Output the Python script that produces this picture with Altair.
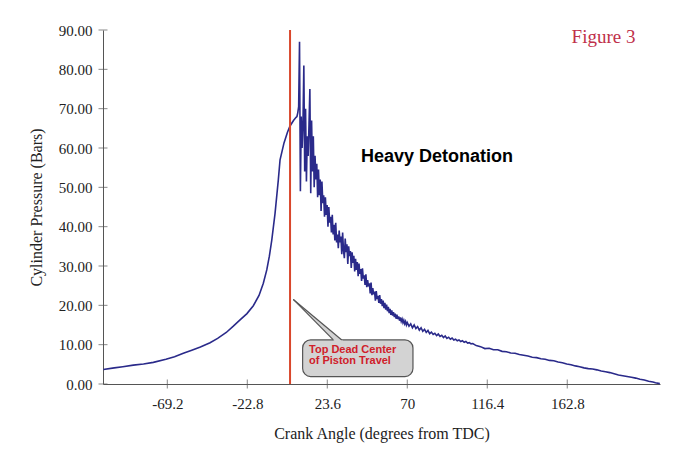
import altair as alt
import pandas as pd

# ---- data ----
pre_angle = [-106.3, -100, -95, -88.9, -83, -77.3, -70, -65, -59.9, -55, -50, -44.4, -40, -35,
             -30.9, -27, -23, -19.3, -16, -13.5, -11.5, -10, -8.6, -6.7, -4.8, -3.8, -1.5, 0.5,
             2.0, 4.0, 5.5]
pre_press = [3.7, 4.1, 4.4, 4.8, 5.1, 5.5, 6.3, 6.9, 7.8, 8.6, 9.4, 10.5, 11.6, 13.1,
             14.7, 16.3, 17.9, 19.9, 22.5, 25.6, 29.0, 32.5, 36.6, 43.4, 51.9, 57.0, 61.3, 64.0,
             65.6, 67.0, 67.8]

knock_angle = [6.0, 6.5, 7.0, 7.5, 8.0, 8.5, 9.0, 9.5, 10.0, 10.5, 11.0, 11.5, 12.0, 12.5,
               13.0, 13.5, 14.0, 14.5, 15.0, 15.5, 16.0, 16.5, 17.0, 17.5, 18.0, 18.5, 19.0,
               19.5, 20.0, 20.5, 21.0, 21.5, 22.0, 22.5, 23.0, 23.5, 24.0, 24.5, 25.0, 25.5,
               26.0, 26.5, 27.0, 27.5, 28.0, 28.5, 29.0, 29.5,
               30.0, 30.5, 31.0, 31.5, 32.0, 32.5, 33.0, 33.5, 34.0, 34.5, 35.0, 35.5, 36.0,
               36.5, 37.0, 37.5, 38.0, 38.5, 39.0, 39.5, 40.0, 40.5, 41.0, 41.5, 42.0, 42.5,
               43.0, 43.5, 44.0, 44.5, 45.0, 45.5, 46.0, 46.5, 47.0, 47.5, 48.0, 48.5, 49.0,
               49.5, 50.0, 50.5, 51.0, 51.5, 52.0, 52.5, 53.0, 53.5, 54.0, 54.5, 55.0, 55.5,
               56.0, 56.5, 57.0, 57.5, 58.0, 58.5, 59.0, 59.5, 60.0, 60.5, 61.0, 61.5, 62.0,
               62.5, 63.0, 63.5, 64.0, 64.5, 65.0, 65.5, 66.0, 66.5, 67.0, 67.5, 68.0, 68.5,
               69.0, 69.5, 70.0,
               71, 72, 73, 74, 75, 76, 77, 78, 79, 80, 81, 82, 83, 84, 85, 86, 87, 88, 89, 90,
               91, 92, 93, 94, 95, 96, 97, 98, 99, 100, 101, 102, 103, 104, 105, 106, 107, 108,
               109, 110]
knock_press = [68.0, 69.0, 70.5, 87.0, 49.0, 68.0, 60.0, 66.0, 81.0, 54.0, 70.0, 51.5, 63.0, 58.0,
               66.0, 75.0, 48.5, 67.0, 54.0, 63.0, 50.0, 58.0, 52.0, 56.0, 47.5, 54.5, 48.0,
               52.0, 44.0, 51.5, 46.0, 48.0, 42.5, 47.5, 43.0, 45.5, 40.0, 45.0, 41.0, 42.5,
               38.5, 43.0, 38.0, 40.5, 36.5, 41.0, 36.0, 38.0,
               34.5, 39.0, 36.0, 37.5, 33.0, 38.5, 34.0, 32.0, 37.0, 33.5, 35.5, 30.5, 35.0,
               32.5, 33.8, 29.5, 33.5, 30.8, 32.6, 28.6, 31.8, 29.0, 31.0, 27.4, 30.6, 28.0,
               29.2, 26.2, 29.4, 26.8, 27.6, 25.2, 27.9, 24.6, 26.4, 24.8, 25.6, 23.0, 25.8,
               22.6, 24.4, 22.8, 23.5, 21.2, 23.6, 21.6, 22.4, 20.6, 22.6, 20.4, 21.6, 19.8,
               21.2, 19.3, 20.6, 18.9, 20.2, 18.5, 19.6, 18.0, 19.1, 17.6, 18.7, 17.4, 18.3,
               17.0, 17.9, 16.6, 17.6, 16.5, 17.2, 16.1, 16.9, 15.9, 16.5, 15.6, 16.2, 15.3,
               15.9, 15.0, 15.6,
               14.7, 15.3, 14.3, 15.0, 14.1, 14.6, 13.7, 14.3, 13.4, 13.9, 13.1, 13.6, 12.8,
               13.2, 12.6, 12.9, 12.3, 12.7, 12.1, 12.4, 11.8, 12.2, 11.6, 11.9, 11.4, 11.7,
               11.2, 11.4, 11.0, 11.2, 10.8, 11.0, 10.6, 10.8, 10.4, 10.5, 10.2, 10.3, 10.0,
               9.8]

tail_angle = [112.5, 115, 117.5, 120, 122.5, 125, 127.5, 130, 132.5, 135, 137.5, 140, 142.5,
              145, 147.5, 150, 152.5, 155, 157.5, 160, 162.5, 165, 167.5, 170, 172.5, 175,
              177.5, 180, 182.5, 185, 187.5, 190, 192.5, 195, 197.5, 200, 202.5, 205, 207.5,
              210, 212.5, 214, 216.5]
tail_press = [9.5, 9.0, 9.1, 8.7, 8.7, 8.3, 8.2, 7.9, 7.8, 7.5, 7.3, 7.1, 6.8, 6.7, 6.4, 6.3,
              6.0, 5.9, 5.6, 5.4, 5.1, 4.9, 4.6, 4.4, 4.1, 3.9, 3.8, 3.6, 3.3, 3.1, 2.9, 2.6,
              2.3, 2.1, 1.9, 1.7, 1.5, 1.2, 1.0, 0.7, 0.5, 0.3, 0.1]

x_ticks = [-69.2, -22.8, 23.6, 70, 116.4, 162.8]
y_ticks = [0, 10, 20, 30, 40, 50, 60, 70, 80, 90]
x_domain = [-106.5, 216.6]
y_domain = [0, 90]

tdc_angle = 2.0

# callout (data space)
box = {"x": 9.3, "x2": 73.3, "y": 1.9, "y2": 11.2}
pointer_x = [3.9, 28.0, 33.1]
pointer_top = [21.5, 12.67, 10.8]
pointer_bot = [21.5, 10.8, 10.8]
pointer_edges_x = [3.9, 3.9]
pointer_edges_y = [21.5, 21.5]
pointer_edges_x2 = [27.1, 32.0]
pointer_edges_y2 = [11.2, 11.2]
callout_lines = ["Top Dead Center", "of Piston Travel"]
callout_y = [8.7, 5.8]
callout_x = 13.0

# ---- build ----
curve = pd.DataFrame({
    "angle": pre_angle + knock_angle + tail_angle,
    "pressure": pre_press + knock_press + tail_press,
})
curve["i"] = range(len(curve))

xs = alt.Scale(domain=x_domain, nice=False, zero=False)
ys = alt.Scale(domain=y_domain, nice=False, zero=False)

serif = "Liberation Serif"
x_title = "Crank Angle (degrees from TDC)"
y_title = "Cylinder Pressure (Bars)"

x_axis = alt.Axis(values=x_ticks, labelExpr="'' + datum.value", ticks=False,
                  grid=False, domainColor="#555", labelColor="#222",
                  labelFont=serif, labelFontSize=15, labelPadding=12,
                  labelOverlap=False,
                  titleFont=serif, titleFontSize=16, titleFontWeight="normal",
                  titleColor="#222", titlePadding=14)
y_axis = alt.Axis(values=y_ticks, format=".2f", ticks=False, grid=False,
                  domainColor="#555", labelColor="#222", labelFont=serif,
                  labelFontSize=15, labelPadding=11, labelOverlap=False,
                  titleFont=serif,
                  titleFontSize=16, titleFontWeight="normal", titleColor="#222",
                  titlePadding=14)


def xe(field):
    return alt.X(field, type="quantitative", scale=xs, axis=x_axis, title=x_title)


def ye(field):
    return alt.Y(field, type="quantitative", scale=ys, axis=y_axis, title=y_title)


line = alt.Chart(curve).mark_line(color="#2a2a8a", strokeWidth=1.6).encode(
    x=xe("angle"), y=ye("pressure"), order="i:Q")

xt = alt.Chart(pd.DataFrame({"angle": x_ticks, "pressure": [0] * len(x_ticks)})).mark_tick(
    orient="vertical", size=9, thickness=1, color="#555").encode(
    x=xe("angle"), y=ye("pressure"))
yt = alt.Chart(pd.DataFrame({"angle": [x_domain[0]] * len(y_ticks), "pressure": y_ticks})).mark_tick(
    orient="horizontal", size=9, thickness=1, color="#555").encode(
    x=xe("angle"), y=ye("pressure"))

tdc = alt.Chart(pd.DataFrame({"angle": [tdc_angle], "pressure": [0], "p1": [90]})).mark_rule(
    color="#d9472b", strokeWidth=2).encode(
    x=xe("angle"), y=ye("pressure"), y2="p1:Q")

rect = alt.Chart(pd.DataFrame([box])).mark_rect(
    fill="#d3d3d3", stroke="#555", strokeWidth=1.2, cornerRadius=8).encode(
    x=xe("x"), x2="x2:Q", y=ye("y"), y2="y2:Q")

tri = alt.Chart(pd.DataFrame({"angle": pointer_x, "top": pointer_top, "bot": pointer_bot})).mark_area(
    color="#d3d3d3", opacity=1).encode(
    x=xe("angle"), y=ye("top"), y2="bot:Q")

edges = alt.Chart(pd.DataFrame({"x": pointer_edges_x, "y": pointer_edges_y,
                                "x2": pointer_edges_x2, "y2": pointer_edges_y2})).mark_rule(
    color="#555", strokeWidth=1.2).encode(
    x=xe("x"), y=ye("y"), x2="x2:Q", y2="y2:Q")

ctext = alt.Chart(pd.DataFrame({"t": callout_lines, "y": callout_y,
                                "x": [callout_x] * len(callout_lines)})).mark_text(
    align="left", baseline="middle", font="Liberation Sans", fontSize=11,
    fontWeight="bold", color="#d0202a").encode(
    x=xe("x"), y=ye("y"), text="t:N")

heavy = alt.Chart(pd.DataFrame({"t": ["Heavy Detonation"], "x": [43.2], "y": [57.7]})).mark_text(
    align="left", baseline="middle", font="Liberation Sans", fontSize=18,
    fontWeight="bold", color="#000").encode(
    x=xe("x"), y=ye("y"), text="t:N")

fig = alt.Chart(pd.DataFrame({"t": ["Figure 3"], "x": [165.3], "y": [88.2]})).mark_text(
    align="left", baseline="middle", font=serif, fontSize=19, color="#c0304a").encode(
    x=xe("x"), y=ye("y"), text="t:N")

chart = alt.layer(line, tdc, rect, tri, edges, ctext, heavy, fig, xt, yt).properties(
    width=557, height=354,
    autosize=alt.AutoSizeParams(type="none"),
    padding={"left": 95, "top": 22, "right": 6, "bottom": 60},
    background="white",
).configure_view(stroke=None)

chart.save("out.html", embed_options={"renderer": "svg", "actions": False})
